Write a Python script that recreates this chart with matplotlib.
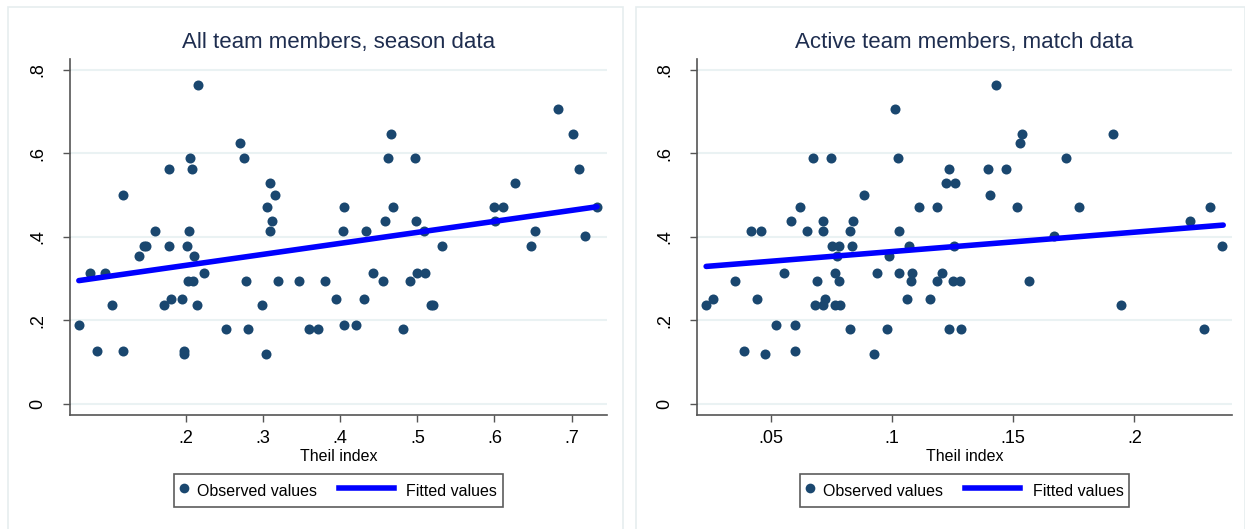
"""
Scatter plots of team performance against the Theil index,
with the fitted regression line, for season data and match data.
"""

import matplotlib
matplotlib.use('Agg')
import matplotlib.pyplot as plt
from matplotlib.patches import Rectangle
from matplotlib.lines import Line2D
from matplotlib.legend_handler import HandlerBase

plt.rcParams['font.family'] = ['Liberation Sans', 'DejaVu Sans']

# All team members, season data
season_theil = [
    0.061, 0.075, 0.084, 0.095, 0.104, 0.1185, 0.1185, 0.139, 0.145, 0.148,
    0.1595, 0.171, 0.1785, 0.178, 0.180, 0.195, 0.197, 0.197, 0.2015, 0.2035,
    0.205, 0.208, 0.210, 0.203, 0.209, 0.214, 0.2155, 0.223, 0.252, 0.270,
    0.275, 0.278, 0.281, 0.299, 0.3035, 0.3045, 0.3085, 0.311, 0.3085, 0.315,
    0.319, 0.346, 0.359, 0.3705, 0.380, 0.395, 0.403, 0.4055, 0.4055, 0.421,
    0.4305, 0.4335, 0.442, 0.456, 0.4585, 0.462, 0.466, 0.468, 0.482, 0.490,
    0.4965, 0.498, 0.499, 0.508, 0.510, 0.5175, 0.5205, 0.5325, 0.599, 0.611,
    0.6005, 0.627, 0.648, 0.652, 0.683, 0.702, 0.710, 0.717, 0.733,
]
season_perf = [
    0.189, 0.314, 0.127, 0.314, 0.237, 0.500, 0.127, 0.354, 0.377, 0.377,
    0.413, 0.237, 0.563, 0.377, 0.251, 0.251, 0.127, 0.120, 0.377, 0.413,
    0.589, 0.563, 0.354, 0.295, 0.295, 0.237, 0.764, 0.314, 0.178, 0.625,
    0.589, 0.295, 0.178, 0.237, 0.120, 0.472, 0.529, 0.437, 0.413, 0.500,
    0.295, 0.295, 0.178, 0.178, 0.295, 0.251, 0.413, 0.472, 0.189, 0.189,
    0.251, 0.413, 0.314, 0.295, 0.437, 0.589, 0.647, 0.472, 0.178, 0.295,
    0.589, 0.437, 0.314, 0.413, 0.314, 0.237, 0.237, 0.377, 0.472, 0.472,
    0.437, 0.529, 0.377, 0.413, 0.706, 0.647, 0.563, 0.401, 0.472,
]
season_fit_x = [0.061, 0.733]
season_fit_y = [0.295, 0.472]

# Active team members, match data
match_theil = [
    0.0232, 0.0261, 0.0352, 0.0388, 0.0418, 0.0444, 0.0460, 0.0475, 0.0520, 0.0554,
    0.0584, 0.0597, 0.0597, 0.0620, 0.0647, 0.0675, 0.0681, 0.0688, 0.0714, 0.0716,
    0.0716, 0.0722, 0.0749, 0.0752, 0.0765, 0.0765, 0.0773, 0.0780, 0.0782, 0.0783,
    0.0824, 0.0828, 0.0833, 0.0839, 0.0885, 0.0923, 0.0938, 0.0979, 0.0986, 0.1010,
    0.1024, 0.1030, 0.1030, 0.1061, 0.1071, 0.1078, 0.1083, 0.1112, 0.1157, 0.1185,
    0.1185, 0.1205, 0.1224, 0.1233, 0.1234, 0.1251, 0.1254, 0.1259, 0.1279, 0.1284,
    0.1397, 0.1404, 0.1430, 0.1470, 0.1517, 0.1529, 0.1537, 0.1564, 0.1669, 0.1717,
    0.1773, 0.1913, 0.1944, 0.2230, 0.2286, 0.2314, 0.2362,
]
match_perf = [
    0.237, 0.251, 0.295, 0.127, 0.413, 0.251, 0.413, 0.120, 0.189, 0.314,
    0.437, 0.189, 0.127, 0.472, 0.413, 0.589, 0.237, 0.295, 0.413, 0.437,
    0.237, 0.251, 0.589, 0.377, 0.314, 0.237, 0.354, 0.377, 0.295, 0.237,
    0.413, 0.178, 0.377, 0.437, 0.500, 0.120, 0.314, 0.178, 0.354, 0.706,
    0.589, 0.413, 0.314, 0.251, 0.377, 0.295, 0.314, 0.472, 0.251, 0.472,
    0.295, 0.314, 0.529, 0.178, 0.563, 0.295, 0.377, 0.529, 0.295, 0.178,
    0.563, 0.500, 0.764, 0.563, 0.472, 0.625, 0.647, 0.295, 0.401, 0.589,
    0.472, 0.647, 0.237, 0.437, 0.178, 0.472, 0.377,
]
match_fit_x = [0.0232, 0.2367]
match_fit_y = [0.329, 0.428]

y_ticks = [0, 0.2, 0.4, 0.6, 0.8]
y_ticklabels = ['0', '.2', '.4', '.6', '.8']
season_xticks = [0.2, 0.3, 0.4, 0.5, 0.6, 0.7]
season_xticklabels = ['.2', '.3', '.4', '.5', '.6', '.7']
match_xticks = [0.05, 0.10, 0.15, 0.20]
match_xticklabels = ['.05', '.1', '.15', '.2']

MARKER = '#1a476f'
FIT = '#0000ff'
GRID = '#eaf2f3'
AXIS = '#555555'
TITLE = '#1e2d4f'


class DotHandler(HandlerBase):
    """Single marker centred in a narrow handle box."""
    def create_artists(self, legend, orig_handle, xdescent, ydescent,
                       width, height, fontsize, trans):
        dot = Line2D([-xdescent + width / 2], [(height - ydescent) / 2],
                     linestyle='none', marker='o', markersize=7,
                     markerfacecolor=MARKER, markeredgewidth=0)
        dot.set_transform(trans)
        return [dot]


class LongLineHandler(HandlerBase):
    """Line sample that reaches back into the column gap."""
    def __init__(self, length, **kw):
        super().__init__(**kw)
        self.length = length

    def create_artists(self, legend, orig_handle, xdescent, ydescent,
                       width, height, fontsize, trans):
        right = -xdescent + width - 3
        y = (height - ydescent) / 2
        line = Line2D([right - self.length, right], [y, y],
                      color=FIT, linewidth=4)
        line.set_transform(trans)
        return [line]


def draw_panel(fig, rect, x, y, fit_x, fit_y, title, xticks, xticklabels, xlim):
    ax = fig.add_axes(rect)

    ax.scatter(x, y, s=52, color=MARKER, linewidths=0, zorder=3)
    ax.plot(fit_x, fit_y, color=FIT, linewidth=4,
            solid_capstyle='round', zorder=4)

    ax.set_xlim(*xlim)
    ax.set_ylim(-0.027, 0.826)
    ax.set_yticks(y_ticks)
    ax.set_yticklabels(y_ticklabels, rotation=90, va='center')
    ax.set_xticks(xticks)
    ax.set_xticklabels(xticklabels)
    ax.grid(axis='y', color=GRID, linewidth=1.5, zorder=0)
    ax.set_axisbelow(True)

    for side in ('top', 'right'):
        ax.spines[side].set_visible(False)
    for side in ('left', 'bottom'):
        ax.spines[side].set_color(AXIS)
        ax.spines[side].set_linewidth(1.2)
    ax.tick_params(axis='both', color=AXIS, length=5, width=1, labelsize=13,
                   labelcolor='black')
    ax.tick_params(axis='y', pad=12)
    ax.tick_params(axis='x', pad=6)

    ax.set_title(title, fontsize=16, color=TITLE, pad=8)
    ax.set_xlabel('Theil index', fontsize=11.5, labelpad=1)

    obs = Line2D([], [])
    fit = Line2D([], [])
    leg = ax.legend([obs, fit], ['Observed values', 'Fitted values'], ncol=2,
                    loc='upper center', bbox_to_anchor=(0.5, -0.166),
                    frameon=True, fancybox=False, fontsize=11.5,
                    handlelength=0.6, handleheight=1.75, columnspacing=4.5,
                    handletextpad=0.5, borderpad=0.35, borderaxespad=0,
                    handler_map={obs: DotHandler(), fit: LongLineHandler(40)})
    leg.get_frame().set_edgecolor('#333333')
    leg.get_frame().set_linewidth(1.2)
    return ax


def main():
    fig = plt.figure(figsize=(12.45, 5.29), dpi=100)
    fig.patch.set_facecolor('white')

    # Faint outlines around each graph region
    for x0, x1 in ((8, 623), (636, 1245)):
        fig.patches.append(Rectangle((x0 / 1245, -0.05), (x1 - x0) / 1245,
                                     1.05 - 7 / 529, transform=fig.transFigure,
                                     facecolor='none', edgecolor='#e6edef',
                                     linewidth=1.2))

    draw_panel(fig, [0.0559, 0.2155, 0.4317, 0.673], season_theil, season_perf,
               season_fit_x, season_fit_y, 'All team members, season data',
               season_xticks, season_xticklabels, (0.049, 0.746))
    draw_panel(fig, [0.5598, 0.2155, 0.4297, 0.673], match_theil, match_perf,
               match_fit_x, match_fit_y, 'Active team members, match data',
               match_xticks, match_xticklabels, (0.0194, 0.2403))

    fig.savefig('out.png', dpi=100, facecolor='white')
    plt.close(fig)


if __name__ == '__main__':
    main()
